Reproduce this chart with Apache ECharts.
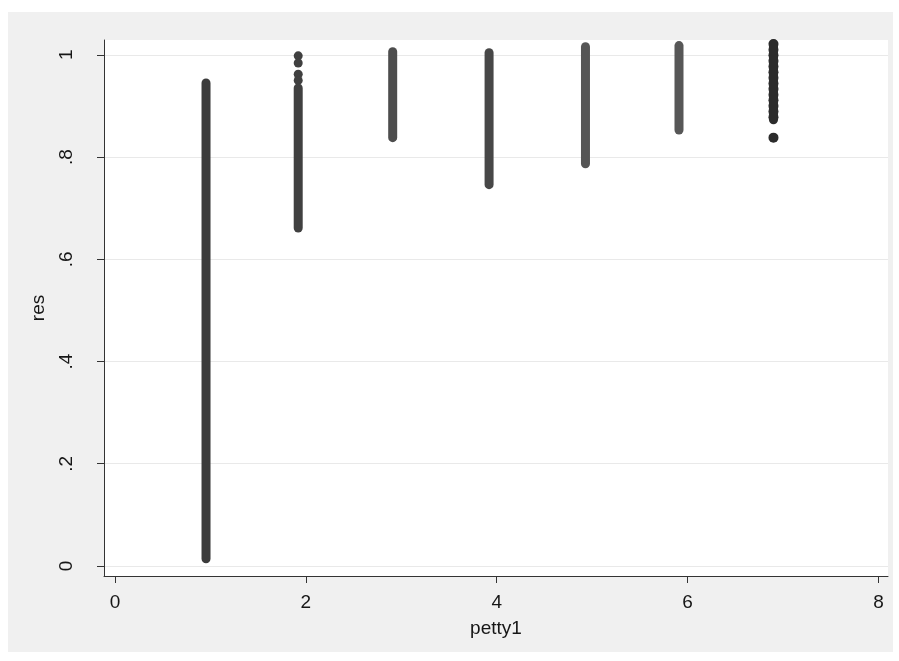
<!DOCTYPE html>
<html>
<head>
    <meta charset="utf-8">
    <title>res vs petty1</title>
    <script src="https://cdn.jsdelivr.net/npm/echarts@6/dist/echarts.min.js"></script>
    <style>
      html, body { margin: 0; padding: 0; background: #fff; }
      #main { width: 899px; height: 661px; }
    </style>
</head>
<body>
    <div id="main"></div>
    <script type="text/javascript">

// each petty1 value gives one solid stack of res points
let colX      = [0.954, 1.92, 2.91, 3.92, 4.93, 5.91, 6.90]
let colTop    = [0.945, 0.935, 1.006, 1.004, 1.016, 1.018, 1.021]
let colBottom = [0.014, 0.661, 0.838, 0.746, 0.787, 0.853, 0.873]

// loose points that stand apart from the stacks
let dots2 = [0.998, 0.984, 0.962, 0.950]
let dots7 = [1.021, 1.010, 0.999, 0.988, 0.977, 0.966, 0.955, 0.944, 0.933, 0.922, 0.911, 0.900, 0.889, 0.878, 0.838]

let xTicks = [0, 2, 4, 6, 8]
let yTicks = [0, 0.2, 0.4, 0.6, 0.8, 1]

let colColors = ['#3b3b3b', '#404040', '#4d4d4d', '#474747', '#555555', '#575757', '#2c2c2c']
let font = 'Liberation Sans, Arial, sans-serif'

let series = colX.map((x, i) => ({
    type: 'line',
    silent: true,
    symbol: 'none',
    data: [[x, colTop[i]], [x, colBottom[i]]],
    lineStyle: { width: 9, cap: 'round', color: colColors[i] }
}))

series.push({
    type: 'scatter',
    silent: true,
    symbolSize: 9,
    itemStyle: { color: colColors[1], opacity: 1 },
    data: dots2.map(v => [colX[1], v])
})
series.push({
    type: 'scatter',
    silent: true,
    symbolSize: 10,
    itemStyle: { color: colColors[6], opacity: 1 },
    data: dots7.map(v => [colX[6], v])
})

let option = {
    backgroundColor: '#ffffff',
    animation: false,
    graphic: [{
        type: 'rect',
        z: -10,
        silent: true,
        shape: { x: 8, y: 12, width: 885, height: 640 },
        style: { fill: '#f0f0f0' }
    }],
    grid: {
        left: 104, right: 11, top: 40, bottom: 85,
        show: true, backgroundColor: '#ffffff', borderWidth: 0
    },
    xAxis: {
        type: 'value',
        min: -0.115, max: 8.10,
        name: 'petty1',
        nameLocation: 'middle',
        nameGap: 43,
        nameTextStyle: { fontFamily: font, fontSize: 19, color: '#161616' },
        axisLine: { show: true, onZero: false, lineStyle: { color: '#333', width: 1 } },
        axisTick: { show: true, length: 7, customValues: xTicks, lineStyle: { color: '#333' } },
        axisLabel: { customValues: xTicks, margin: 17, fontFamily: font, fontSize: 19, color: '#161616' },
        splitLine: { show: false }
    },
    yAxis: {
        type: 'value',
        min: -0.0196, max: 1.029,
        name: 'res',
        nameLocation: 'middle',
        nameGap: 56,
        nameTextStyle: { fontFamily: font, fontSize: 19, color: '#161616' },
        axisLine: { show: true, onZero: false, lineStyle: { color: '#333', width: 1 } },
        axisTick: { show: true, length: 7, customValues: yTicks, lineStyle: { color: '#333' } },
        axisLabel: {
            customValues: yTicks,
            rotate: 90,
            margin: 28,
            fontFamily: font, fontSize: 19, color: '#161616',
            formatter: v => (v === 0 || v === 1) ? String(v) : String(v).replace(/^0/, '')
        },
        splitLine: { show: true, lineStyle: { color: '#e9e9e9', width: 1 } }
    },
    series: series
}

echarts.init(document.getElementById('main')).setOption(option)

    </script>
</body>
</html>
